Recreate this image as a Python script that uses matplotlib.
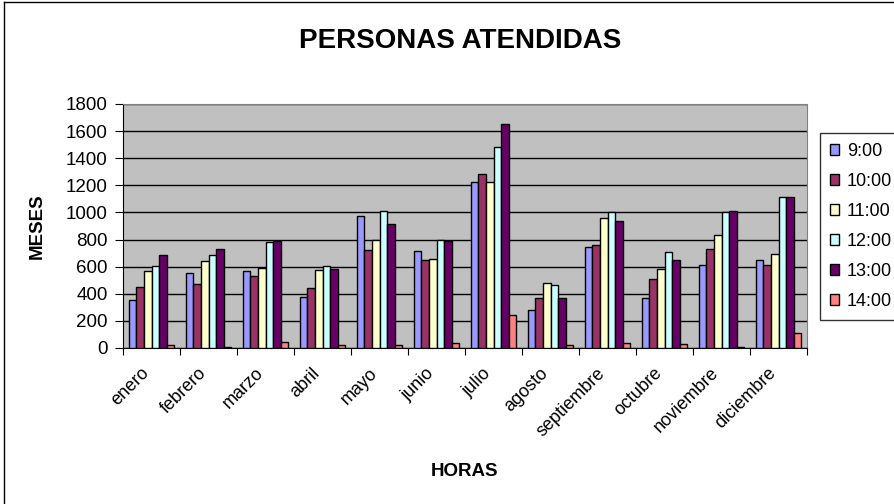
import matplotlib
matplotlib.use("Agg")
import matplotlib.pyplot as plt
import matplotlib.transforms as mtransforms
import numpy as np
from matplotlib.lines import Line2D

plt.rcParams['font.family'] = ['Liberation Sans', 'DejaVu Sans']

# Data
months = ["enero", "febrero", "marzo", "abril", "mayo", "junio", "julio",
          "agosto", "septiembre", "octubre", "noviembre", "diciembre"]
hours = ["9:00", "10:00", "11:00", "12:00", "13:00", "14:00"]

h9 = [352, 556, 566, 379, 975, 714, 1224, 281, 744, 369, 613, 650]
h10 = [453, 475, 529, 443, 724, 650, 1281, 369, 763, 512, 734, 613]
h11 = [566, 640, 593, 576, 795, 660, 1224, 477, 958, 586, 837, 690]
h12 = [603, 687, 780, 603, 1012, 795, 1485, 465, 1005, 707, 1005, 1116]
h13 = [687, 731, 790, 583, 916, 793, 1653, 369, 938, 650, 1012, 1116]
h14 = [19, 8, 46, 19, 19, 39, 241, 19, 39, 29, 8, 113]

series = [h9, h10, h11, h12, h13, h14]
colors = ["#9999FF", "#993366", "#FFFFCC", "#CCFFFF", "#660066", "#FF8080"]

fig = plt.figure(figsize=(8.94, 5.04), dpi=100)
W, H = 894, 504
ax = fig.add_axes([123 / W, 1 - 348 / H, (807 - 123) / W, (348 - 104) / H])
ax.set_facecolor("#C0C0C0")

x = np.arange(len(months))
n = len(series)
bw = 1 / (n + 1.5)
for i, (vals, c) in enumerate(zip(series, colors)):
    ax.bar(x + (i - (n - 1) / 2) * bw, vals, bw, color=c, edgecolor="black",
           linewidth=1, label=hours[i], zorder=3)

ax.set_xlim(-0.5, len(months) - 0.5)
ax.set_ylim(0, 1800)
ax.set_yticks(range(0, 1801, 200))
ax.tick_params(axis='y', labelsize=13.5, direction='out', length=6, pad=5)
ax.yaxis.grid(True, color="black", linewidth=1, zorder=0)
ax.set_axisbelow(True)

# ticks between categories, month names centred under each group
ax.set_xticks(np.arange(-0.5, len(months), 1))
ax.set_xticklabels([])
ax.tick_params(axis='x', direction='out', length=5)
ax.set_xticks(x, minor=True)
ax.set_xticklabels(months, minor=True, rotation=45, ha='right',
                   rotation_mode='anchor', fontsize=13)
ax.tick_params(axis='x', which='minor', length=0, pad=12)
shift = mtransforms.ScaledTranslation(-11 / 100, 0, fig.dpi_scale_trans)
for lab in ax.get_xticklabels(minor=True):
    lab.set_transform(lab.get_transform() + shift)

for s in ["top", "right"]:
    ax.spines[s].set_color("#808080")

fig.text(460 / W, 1 - 41 / H, "PERSONAS ATENDIDAS", ha='center', va='center',
         fontsize=20, fontweight='bold')
fig.text(37 / W, 1 - 226 / H, "MESES", ha='center', va='center', rotation=90,
         fontsize=13.5, fontweight='bold')
fig.text(465 / W, 1 - 472 / H, "HORAS", ha='center', va='center',
         fontsize=13.5, fontweight='bold')

leg = fig.legend(loc='upper left', bbox_to_anchor=(820 / W, 1 - 133 / H),
                 fontsize=13, frameon=True, fancybox=False, edgecolor='black',
                 handlelength=0.5, handleheight=0.5, handletextpad=0.45,
                 labelspacing=0.72, borderpad=0.55, borderaxespad=0)
leg.get_frame().set_linewidth(1)

# outer chart frame (only top and left edges are visible in the crop)
fig.lines.append(Line2D([4 / W, 4 / W], [0, 1 - 2 / H], transform=fig.transFigure,
                        color="black", linewidth=1))
fig.lines.append(Line2D([4 / W, 1], [1 - 2 / H, 1 - 2 / H], transform=fig.transFigure,
                        color="black", linewidth=1))

fig.savefig("out.png", dpi=100)
